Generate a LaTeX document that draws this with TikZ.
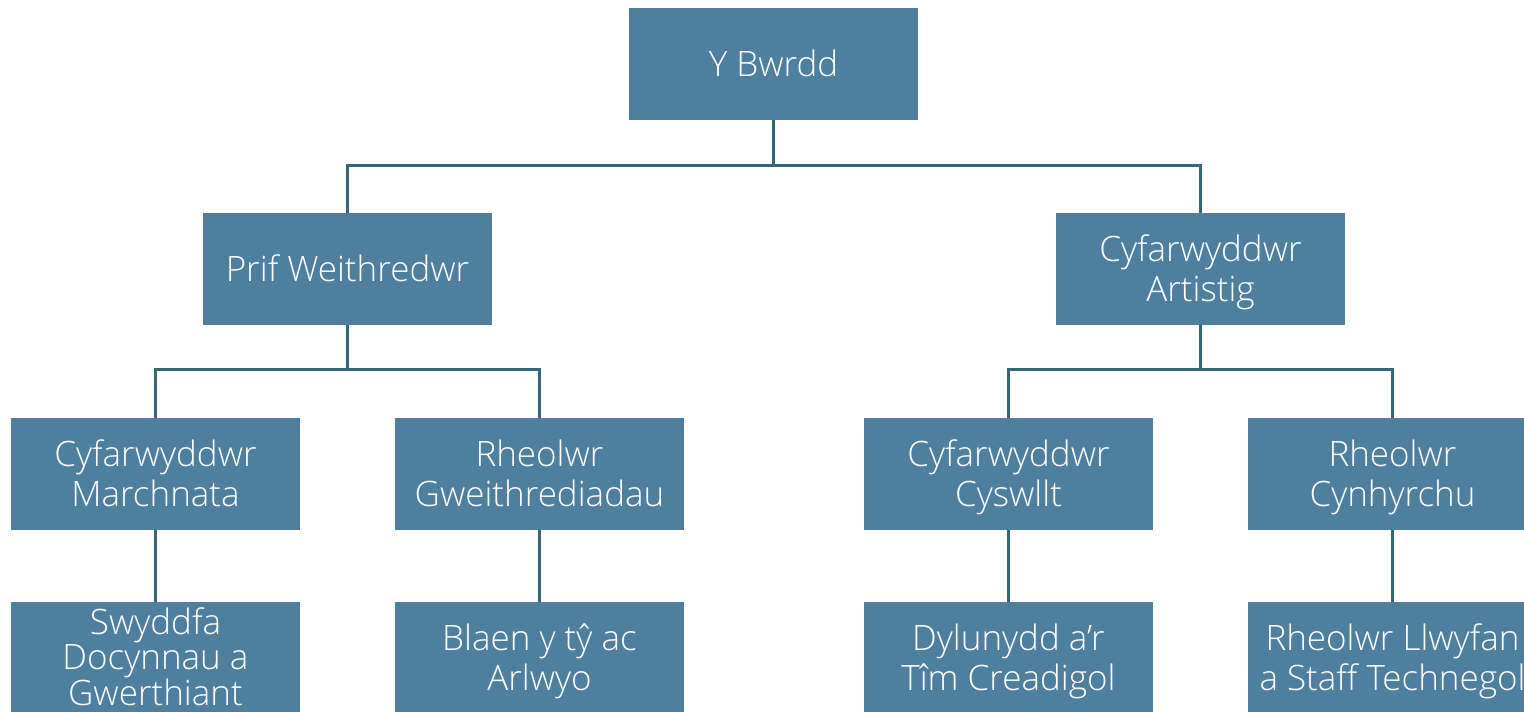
\documentclass[tikz,border=0pt]{standalone}
\usepackage{fontspec}
\setmainfont{Open Sans}[UprightFont={* Light}]
\definecolor{boxblue}{RGB}{79,127,159}
\definecolor{linecol}{RGB}{54,103,120}
\tikzset{
  orgbox/.style={fill=boxblue, draw=none, minimum width=289pt, minimum height=112pt,
    inner sep=0pt, text=white, align=center, font=\fontsize{35}{40}\selectfont,
    text height=25pt, text depth=0pt},
  twoline/.style={text height=65pt},
  threeline/.style={font=\fontsize{35}{34.5}\selectfont, text height=94pt},
  conn/.style={draw=linecol, line width=3pt}
}
\begin{document}
\begin{tikzpicture}[x=1pt,y=-1pt]
\useasboundingbox (0,0) rectangle (1524,712);
\clip (0,0) rectangle (1524,712);
% level 1
\node[orgbox] (bwrdd) at (773.5,64) {Y Bwrdd};
% level 2
\node[orgbox] (prif) at (347.5,269) {Prif Weithredwr};
\node[orgbox, twoline] (artistig) at (1200.5,269) {Cyfarwyddwr\\Artistig};
% level 3
\node[orgbox, twoline] (marchnata) at (155.5,474) {Cyfarwyddwr\\Marchnata};
\node[orgbox, twoline] (gweith) at (539.5,474) {Rheolwr\\Gweithrediadau};
\node[orgbox, twoline] (cyswllt) at (1008.5,474) {Cyfarwyddwr\\Cyswllt};
\node[orgbox, twoline] (cynhyrchu) at (1392.5,474) {Rheolwr\\Cynhyrchu};
% level 4
\node[orgbox, threeline] (swyddfa) at (155.5,658) {Swyddfa\\Docynnau a\\Gwerthiant};
\node[orgbox, twoline] (blaen) at (539.5,658) {Blaen y tŷ ac\\Arlwyo};
\node[orgbox, twoline] (dylunydd) at (1008.5,658) {Dylunydd a’r\\Tîm Creadigol};
\node[orgbox, twoline] (llwyfan) at (1392.5,658) {Rheolwr Llwyfan\\a Staff Technegol};
% junctions
\coordinate (j1) at (773.5,165);
\coordinate (j2) at (347.5,369);
\coordinate (j3) at (1200.5,369);
% connectors
\draw[conn] (bwrdd.south) -- (j1);
\draw[conn] (prif.north) |- (j1) -| (artistig.north);
\draw[conn] (prif.south) -- (j2);
\draw[conn] (marchnata.north) |- (j2) -| (gweith.north);
\draw[conn] (artistig.south) -- (j3);
\draw[conn] (cyswllt.north) |- (j3) -| (cynhyrchu.north);
\draw[conn] (marchnata.south) -- (swyddfa.north);
\draw[conn] (gweith.south) -- (blaen.north);
\draw[conn] (cyswllt.south) -- (dylunydd.north);
\draw[conn] (cynhyrchu.south) -- (llwyfan.north);
\end{tikzpicture}
\end{document}
